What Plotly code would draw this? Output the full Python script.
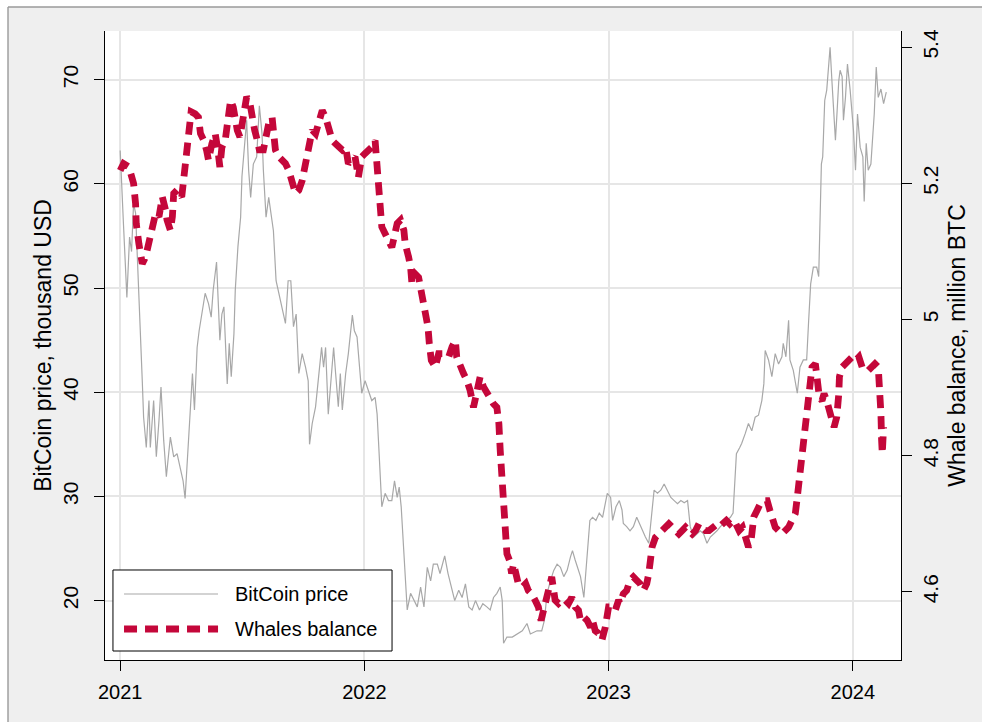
import pandas as pd
import plotly.graph_objects as go

# ---------------- data ----------------
start = pd.Timestamp("2021-01-01")

# BitCoin price, thousand USD  (days since 2021-01-01)
price_days = [
    0, 3, 5, 10, 14, 17, 20, 23, 28, 33,
    35, 39, 43, 45, 50, 54, 58, 61, 65, 69,
    75, 80, 85, 90, 94, 97, 101, 105, 108, 111,
    115, 118, 122, 127, 132, 136, 139, 144, 149, 152,
    155, 158, 160, 163, 166, 170, 172, 176, 180, 182,
    189, 192, 195, 199, 204, 208, 212, 214, 218, 222,
    225, 229, 233, 237, 242, 247, 251, 255, 259, 263,
    267, 272, 277, 281, 283, 287, 292, 297, 301, 304,
    307, 311, 314, 319, 322, 326, 329, 332, 337, 341,
    347, 350, 354, 357, 361, 366, 371, 376, 381, 384,
    386, 389, 391, 396, 401, 406, 410, 414, 417, 420,
    423, 426, 429, 434, 439, 444, 449, 454, 459, 464,
    468, 474, 478, 485, 490, 495, 500, 506, 511, 516,
    521, 526, 531, 537, 542, 548, 553, 558, 563, 568,
    571, 573, 578, 586, 593, 601, 608, 613, 623, 630,
    634, 638, 643, 648, 653, 658, 663, 668, 673, 676,
    680, 684, 688, 693, 698, 702, 706, 711, 716, 721,
    728, 733, 736, 741, 746, 750, 752, 757, 762, 767,
    772, 776, 780, 785, 790, 795, 798, 803, 808, 813,
    818, 823, 828, 833, 838, 843, 848, 852, 857, 862,
    867, 872, 877, 882, 887, 892, 897, 902, 907, 912,
    916, 918, 921, 926, 929, 934, 939, 944, 949, 954,
    959, 962, 964, 969, 974, 979, 984, 989, 991, 995,
    999, 1001, 1006, 1012, 1016, 1021, 1026, 1029, 1032, 1036,
    1041, 1044, 1046, 1048, 1050, 1053, 1056, 1059, 1061, 1064,
    1066, 1069, 1071, 1074, 1076, 1079, 1081, 1084, 1087, 1091,
    1096, 1099, 1102, 1106, 1110, 1112, 1115, 1118, 1122, 1125,
    1127, 1130, 1133, 1137, 1141, 1145,
]
price_k = [
    63.2, 58.0, 56.0, 49.1, 54.9, 53.5, 58.1, 57.2, 49.8, 41.1,
    37.6, 34.7, 39.2, 34.7, 39.2, 33.8, 37.3, 40.5, 35.4, 31.9,
    35.7, 33.8, 34.1, 32.8, 31.5, 29.8, 34.1, 39.5, 41.8, 38.3,
    44.3, 45.9, 47.5, 49.5, 48.5, 47.2, 49.8, 52.5, 45.0, 47.5,
    48.2, 43.7, 40.8, 44.7, 41.5, 45.6, 49.8, 54.0, 56.8, 60.7,
    66.1, 61.3, 58.7, 61.9, 62.6, 67.5, 64.8, 61.3, 56.8, 58.7,
    57.1, 55.5, 50.7, 49.5, 48.2, 46.6, 50.7, 50.7, 46.3, 47.5,
    41.8, 43.7, 42.4, 41.1, 35.0, 37.0, 38.6, 41.5, 44.3, 42.4,
    44.3, 37.9, 40.2, 44.3, 41.8, 38.6, 41.8, 38.3, 41.8, 43.7,
    47.4, 45.9, 45.3, 43.1, 39.9, 41.1, 40.2, 39.2, 39.5, 37.9,
    35.4, 31.2, 29.0, 30.3, 29.6, 29.6, 31.5, 29.9, 30.9, 29.0,
    25.8, 22.3, 19.1, 20.7, 20.0, 19.4, 21.3, 19.4, 23.2, 21.9,
    23.5, 23.5, 22.6, 24.3, 22.6, 21.3, 20.0, 21.0, 20.3, 21.6,
    19.4, 19.1, 20.0, 19.1, 19.7, 19.4, 19.1, 20.3, 20.7, 21.3,
    20.0, 15.9, 16.5, 16.5, 16.8, 17.1, 17.8, 16.8, 17.1, 17.1,
    18.1, 20.7, 21.9, 22.9, 23.5, 23.2, 22.3, 22.9, 24.2, 24.8,
    23.9, 23.2, 22.3, 20.3, 24.8, 27.7, 28.0, 27.7, 28.4, 28.0,
    30.3, 29.9, 27.7, 29.0, 29.6, 28.7, 27.4, 27.1, 26.7, 27.1,
    28.0, 27.4, 26.7, 26.1, 25.5, 29.0, 30.6, 30.3, 30.6, 31.2,
    30.6, 29.9, 29.6, 29.3, 29.6, 29.4, 29.6, 27.1, 26.1, 26.4,
    26.7, 26.4, 25.5, 26.1, 26.4, 26.7, 27.1, 27.4, 27.7, 28.0,
    28.4, 30.9, 34.1, 34.7, 35.1, 36.0, 37.0, 36.3, 37.6, 37.8,
    39.2, 40.8, 44.0, 43.1, 41.5, 43.7, 42.7, 43.4, 44.7, 43.4,
    46.9, 43.1, 42.1, 39.9, 42.4, 43.1, 43.1, 46.9, 50.4, 52.0,
    52.0, 51.1, 56.8, 61.9, 62.6, 68.0, 69.0, 71.5, 73.1, 69.6,
    67.4, 64.2, 66.4, 69.9, 70.9, 70.3, 66.1, 68.3, 71.5, 69.0,
    65.1, 61.3, 66.7, 63.5, 62.6, 58.3, 63.9, 61.3, 61.9, 65.1,
    66.7, 71.2, 68.3, 69.1, 67.7, 68.8,
]

# Whales balance, million BTC  (days since 2021-01-01)
whale_days = [
    0, 5, 13, 20, 23, 24, 28, 33, 38, 43,
    48, 53, 58, 63, 68, 70, 75, 78, 80, 85,
    92, 95, 99, 101, 104, 106, 112, 117, 120, 125,
    129, 132, 137, 142, 146, 149, 152, 157, 161, 165,
    169, 171, 175, 179, 184, 189, 194, 197, 201, 205,
    208, 214, 217, 222, 227, 229, 232, 237, 242, 247,
    252, 257, 262, 267, 272, 277, 282, 287, 292, 297,
    302, 307, 312, 317, 322, 327, 332, 337, 341, 346,
    351, 356, 361, 366, 371, 376, 381, 384, 386, 390,
    391, 396, 401, 406, 414, 419, 424, 426, 431, 434,
    436, 441, 446, 451, 456, 460, 462, 465, 471, 476,
    483, 491, 496, 501, 503, 508, 513, 518, 523, 528,
    533, 538, 543, 548, 553, 558, 563, 566, 568, 571,
    573, 576, 578, 582, 585, 588, 591, 595, 601, 606,
    610, 615, 620, 625, 629, 633, 636, 640, 645, 650,
    655, 660, 665, 670, 675, 680, 685, 688, 693, 698,
    703, 706, 710, 715, 720, 725, 730, 735, 740, 745,
    747, 752, 757, 762, 767, 772, 777, 782, 787, 790,
    792, 795, 800, 805, 810, 815, 820, 825, 830, 835,
    840, 845, 850, 855, 860, 865, 870, 875, 880, 885,
    890, 895, 900, 906, 911, 916, 920, 925, 930, 934,
    939, 943, 947, 952, 957, 962, 967, 971, 975, 979,
    984, 989, 994, 999, 1004, 1009, 1012, 1015, 1018, 1021,
    1025, 1028, 1030, 1034, 1039, 1042, 1045, 1049, 1052, 1056,
    1060, 1064, 1067, 1071, 1074, 1075, 1079, 1084, 1089, 1094,
    1099, 1104, 1109, 1114, 1118, 1123, 1128, 1133, 1136, 1137,
    1138, 1139, 1141,
]
whale_m = [
    5.219, 5.229, 5.224, 5.200, 5.170, 5.141, 5.111, 5.082, 5.092, 5.116,
    5.131, 5.156, 5.151, 5.180, 5.160, 5.146, 5.131, 5.151, 5.185, 5.190,
    5.180, 5.209, 5.229, 5.249, 5.297, 5.305, 5.302, 5.297, 5.273, 5.263,
    5.249, 5.234, 5.258, 5.273, 5.249, 5.224, 5.253, 5.263, 5.293, 5.322,
    5.312, 5.297, 5.278, 5.268, 5.307, 5.327, 5.317, 5.297, 5.278, 5.263,
    5.249, 5.249, 5.263, 5.288, 5.297, 5.278, 5.249, 5.239, 5.234, 5.229,
    5.219, 5.204, 5.185, 5.190, 5.204, 5.229, 5.258, 5.278, 5.273, 5.288,
    5.307, 5.297, 5.278, 5.263, 5.258, 5.253, 5.249, 5.253, 5.229, 5.234,
    5.239, 5.209, 5.239, 5.244, 5.249, 5.253, 5.263, 5.224, 5.195, 5.165,
    5.136, 5.126, 5.116, 5.106, 5.141, 5.146, 5.131, 5.111, 5.092, 5.077,
    5.053, 5.067, 5.062, 5.038, 5.018, 4.989, 4.965, 4.940, 4.930, 4.950,
    4.950, 4.945, 4.960, 4.969, 4.945, 4.930, 4.921, 4.911, 4.896, 4.871,
    4.891, 4.916, 4.901, 4.891, 4.881, 4.876, 4.871, 4.847, 4.808, 4.764,
    4.725, 4.685, 4.656, 4.646, 4.627, 4.641, 4.622, 4.612, 4.607, 4.612,
    4.602, 4.597, 4.588, 4.578, 4.558, 4.573, 4.588, 4.607, 4.622, 4.588,
    4.583, 4.588, 4.588, 4.583, 4.592, 4.578, 4.573, 4.558, 4.563, 4.558,
    4.548, 4.558, 4.543, 4.539, 4.529, 4.548, 4.578, 4.578, 4.573, 4.588,
    4.583, 4.597, 4.602, 4.617, 4.622, 4.617, 4.612, 4.602, 4.612, 4.627,
    4.646, 4.666, 4.680, 4.685, 4.690, 4.695, 4.700, 4.695, 4.690, 4.685,
    4.690, 4.695, 4.690, 4.685, 4.690, 4.700, 4.695, 4.690, 4.690, 4.695,
    4.698, 4.695, 4.700, 4.705, 4.700, 4.705, 4.700, 4.690, 4.695, 4.685,
    4.666, 4.676, 4.710, 4.720, 4.730, 4.734, 4.734, 4.720, 4.705, 4.695,
    4.690, 4.685, 4.690, 4.695, 4.705, 4.715, 4.739, 4.764, 4.798, 4.823,
    4.842, 4.867, 4.896, 4.930, 4.935, 4.911, 4.886, 4.881, 4.891, 4.881,
    4.862, 4.852, 4.842, 4.857, 4.891, 4.916, 4.930, 4.935, 4.940, 4.945,
    4.940, 4.945, 4.930, 4.925, 4.925, 4.930, 4.935, 4.930, 4.896, 4.862,
    4.823, 4.803, 4.842,
]

year_ticks = ["2021-01-01", "2022-01-01", "2023-01-01", "2024-01-01"]
year_labels = ["2021", "2022", "2023", "2024"]
left_ticks = [20, 30, 40, 50, 60, 70]
right_ticks = [4.6, 4.8, 5.0, 5.2, 5.4]
right_labels = ["4.6", "4.8", "5", "5.2", "5.4"]

series_names = ["BitCoin price", "Whales balance"]
left_title = "BitCoin price, thousand USD"
right_title = "Whale balance, million BTC"

# ---------------- styling ----------------
FONT = "Liberation Sans, Arial, Helvetica, sans-serif"
GRAY = "#A8A8A8"
RED = "#C4073A"
GRID = "#E6E6E6"
OUTER = "#EFEFEF"
FRAME = "#9A9A9A"
DASH = "13px,8px"

n_p = min(len(price_days), len(price_k))
n_w = min(len(whale_days), len(whale_m))
px_dates = start + pd.to_timedelta(price_days[:n_p], unit="D")
wx_dates = start + pd.to_timedelta(whale_days[:n_w], unit="D")

fig = go.Figure()
fig.add_trace(go.Scatter(
    x=px_dates, y=price_k[:n_p], mode="lines", name=series_names[0],
    line=dict(color=GRAY, width=1.2), yaxis="y",
))
fig.add_trace(go.Scatter(
    x=wx_dates, y=whale_m[:n_w], mode="lines", name=series_names[1],
    line=dict(color=RED, width=6.8, dash=DASH), yaxis="y2",
))

x_lo = (start + pd.Timedelta(days=-22.7)).isoformat()
x_hi = (start + pd.Timedelta(days=1167)).isoformat()

fig.update_layout(
    width=982, height=722,
    margin=dict(l=105, r=81, t=31, b=62, pad=0),
    paper_bgcolor=OUTER, plot_bgcolor="white",
    showlegend=False,
    font=dict(family=FONT, size=20, color="black"),
    xaxis=dict(
        type="date", range=[x_lo, x_hi],
        tickmode="array", tickvals=year_ticks, ticktext=year_labels,
        ticks="outside", ticklen=10, tickwidth=1, tickcolor="black",
        ticklabelstandoff=4,
        showline=True, linecolor="black", linewidth=1.2,
        showgrid=True, gridcolor=GRID, gridwidth=1.6, zeroline=False,
        tickfont=dict(size=20),
    ),
    yaxis=dict(
        range=[14.3, 74.67], tickmode="array", tickvals=left_ticks,
        tickangle=-90, ticks="outside", ticklen=10, tickwidth=1, tickcolor="black",
        ticklabelstandoff=8,
        showline=True, linecolor="black", linewidth=1.2,
        showgrid=True, gridcolor=GRID, gridwidth=1.6, zeroline=False,
        tickfont=dict(size=21),
        title=dict(text=left_title, font=dict(size=23), standoff=0),
    ),
    yaxis2=dict(
        range=[4.5, 5.4237], overlaying="y", side="right",
        tickmode="array", tickvals=right_ticks, ticktext=right_labels,
        tickangle=-90, ticks="outside", ticklen=10, tickwidth=1, tickcolor="black",
        ticklabelstandoff=1,
        showline=True, linecolor="black", linewidth=1.2,
        showgrid=False, zeroline=False,
        tickfont=dict(size=21),
        title=dict(text=right_title, font=dict(size=23), standoff=7),
    ),
)

# white page strips outside the Stata graph-region frame, then the frame edges
FX = (8 - 105) / 796.0
FY = (660 - 7) / 629.0
fig.add_shape(type="rect", xref="paper", yref="paper", x0=-0.3, x1=FX, y0=-0.3, y1=1.3,
              fillcolor="white", line=dict(width=0), layer="above")
fig.add_shape(type="rect", xref="paper", yref="paper", x0=-0.3, x1=1.3, y0=FY, y1=1.3,
              fillcolor="white", line=dict(width=0), layer="above")
fig.add_shape(type="line", xref="paper", yref="paper", x0=FX, x1=FX,
              y0=-0.3, y1=FY, line=dict(color=FRAME, width=1.4), layer="above")
fig.add_shape(type="line", xref="paper", yref="paper", x0=FX, x1=1.3,
              y0=FY, y1=FY, line=dict(color=FRAME, width=1.4), layer="above")

# legend box drawn in Stata style
fig.add_shape(type="rect", xref="paper", yref="paper", x0=0.0100, x1=0.3606,
              y0=0.0143, y1=0.1431, fillcolor="white",
              line=dict(color="black", width=1), layer="above")
fig.add_shape(type="line", xref="paper", yref="paper", x0=0.0239, x1=0.1420,
              y0=0.1049, y1=0.1049, line=dict(color=GRAY, width=1.2), layer="above")
fig.add_shape(type="line", xref="paper", yref="paper", x0=0.0239, x1=0.1420,
              y0=0.0493, y1=0.0493, line=dict(color=RED, width=6.8, dash=DASH), layer="above")
for name, yy in zip(series_names, [0.1049, 0.0493]):
    fig.add_annotation(text=name, xref="paper", yref="paper", x=0.1608, y=yy,
                       xanchor="left", yanchor="middle", showarrow=False,
                       font=dict(size=20, family=FONT, color="black"))

fig.write_html(
    "out.html",
    config={"displayModeBar": False},
    post_script="document.body.style.margin='0';"
                "document.body.style.overflow='hidden';"
                "document.documentElement.style.overflow='hidden';",
)
